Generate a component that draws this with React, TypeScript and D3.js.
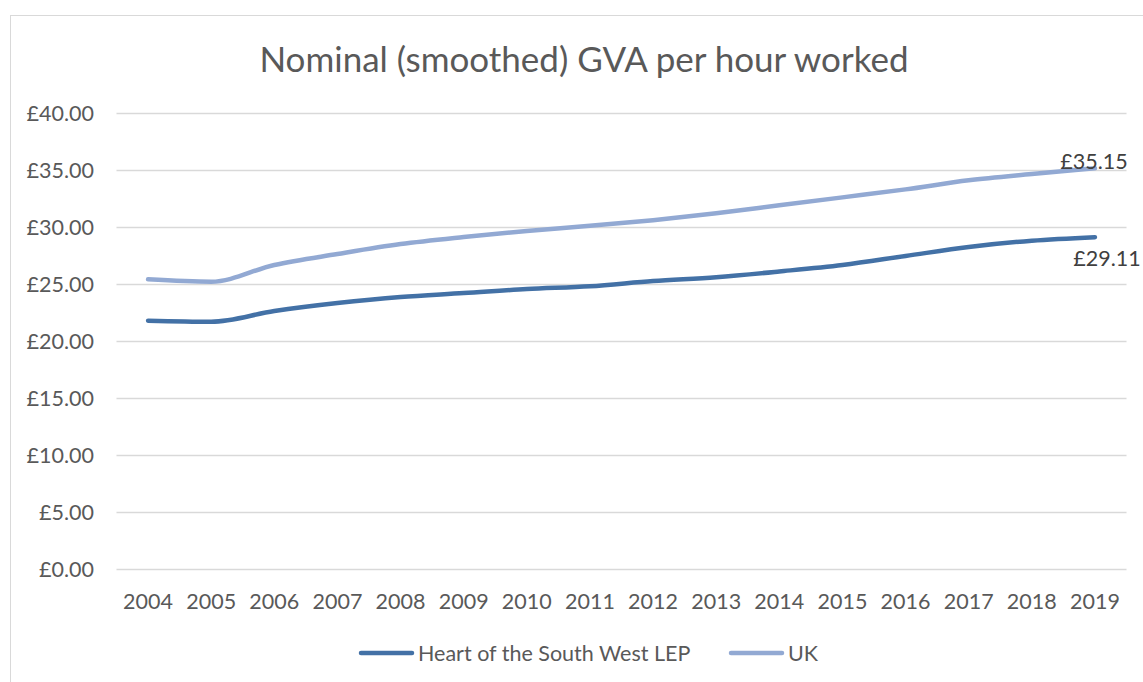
import React from "react";
import * as d3 from "d3";

const years = ["2004", "2005", "2006", "2007", "2008", "2009", "2010", "2011", "2012", "2013", "2014", "2015", "2016", "2017", "2018", "2019"];
const heartValues = [21.78, 21.69, 22.63, 23.33, 23.86, 24.2, 24.56, 24.8, 25.26, 25.6, 26.1, 26.67, 27.46, 28.25, 28.8, 29.11];
const ukValues = [25.41, 25.2, 26.67, 27.63, 28.5, 29.12, 29.65, 30.1, 30.6, 31.2, 31.9, 32.6, 33.3, 34.1, 34.65, 35.15];
const seriesNames = ["Heart of the South West LEP", "UK"];
const seriesColors = ["#4371A6", "#92A9D3"];
const yTicks = [0, 5, 10, 15, 20, 25, 30, 35, 40];

const W = 1143, H = 682;
const FONT = "Lato, 'Open Sans', sans-serif";
const TEXT = "#595959";
const FS = 21.5;

const App = () => {
    const x = d3.scaleBand().domain(years).range([116.5, 1126.5]);
    const y = d3.scaleLinear().domain([0, 40]).range([569, 113]);
    const cx = (yr: string) => (x(yr) as number) + x.bandwidth() / 2;

    const line = d3.line<number>()
        .x((d, i) => cx(years[i]))
        .y(d => y(d))
        .curve(d3.curveMonotoneX);

    const series = [heartValues, ukValues];
    const fmt = (v: number) => "£" + v.toFixed(2);
    const last = years.length - 1;

    return (
        <svg width={W} height={H} style={{ position: "absolute", left: 0, top: 0, background: "#fff" }}>
            <rect x={10.5} y={15.5} width={W} height={H} fill="#fff" stroke="#d9d9d9" strokeWidth={1} />

            <text x={584} y={72} textAnchor="middle" fontFamily={FONT} fontSize={35} fill={TEXT}>
                Nominal (smoothed) GVA per hour worked
            </text>

            {yTicks.map(t => (
                <g key={t}>
                    <line x1={116.5} x2={1126.5} y1={Math.round(y(t)) + 0.5} y2={Math.round(y(t)) + 0.5} stroke="#d9d9d9" strokeWidth={1.3} />
                    <text x={94} y={y(t)} dy="0.35em" textAnchor="end" fontFamily={FONT} fontSize={FS} fill={TEXT}>
                        {fmt(t)}
                    </text>
                </g>
            ))}

            {years.map(yr => (
                <text key={yr} x={cx(yr)} y={601} dy="0.35em" textAnchor="middle" fontFamily={FONT} fontSize={FS} fill={TEXT}>
                    {yr}
                </text>
            ))}

            {series.map((vals, i) => (
                <path key={i} d={line(vals) as string} fill="none" stroke={seriesColors[i]} strokeWidth={4.5} strokeLinecap="round" strokeLinejoin="round" />
            ))}

            <text x={cx(years[last]) + 12} y={y(heartValues[last]) + 21} dy="0.35em" textAnchor="middle" fontFamily={FONT} fontSize={FS} fill="#404040">
                {fmt(heartValues[last])}
            </text>
            <text x={cx(years[last]) - 1} y={y(ukValues[last]) - 7} dy="0.35em" textAnchor="middle" fontFamily={FONT} fontSize={FS} fill="#404040">
                {fmt(ukValues[last])}
            </text>

            {seriesNames.map((name, i) => {
                const lx = i === 0 ? 359 : 729;
                return (
                    <g key={name}>
                        <line x1={lx + 2} x2={lx + 53} y1={653} y2={653} stroke={seriesColors[i]} strokeWidth={4.5} strokeLinecap="round" />
                        <text x={lx + 59} y={653} dy="0.35em" fontFamily={FONT} fontSize={FS} fill={TEXT}>{name}</text>
                    </g>
                );
            })}
        </svg>
    );
};

export default App;
